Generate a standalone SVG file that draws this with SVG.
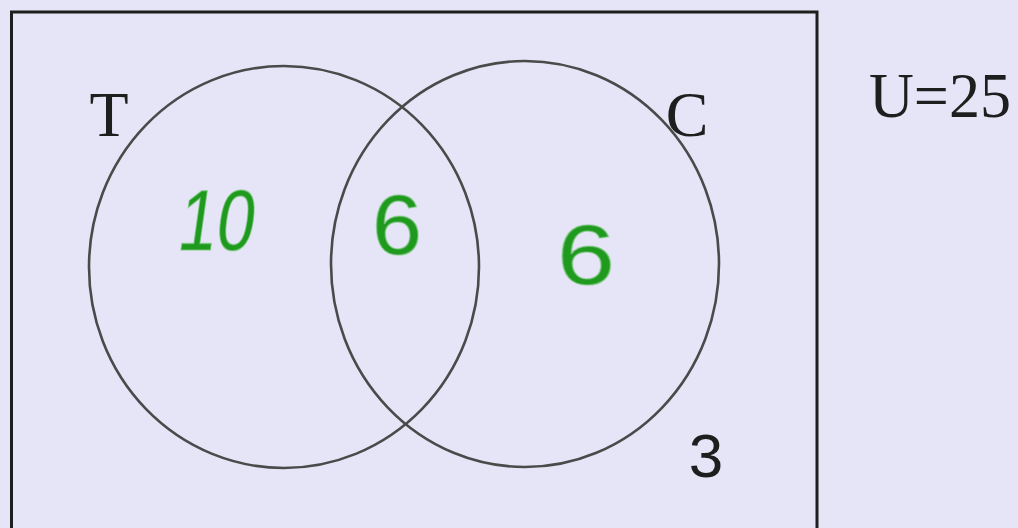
<svg xmlns="http://www.w3.org/2000/svg" width="1018" height="528" viewBox="0 0 1018 528">
<style>
.bg{fill:#E5E5F7}
.frame{fill:none;stroke:#1e1e1e;stroke-width:3}
.set{fill:none;stroke:#4a4a4a;stroke-width:2.6}
.lbl{font-family:"Liberation Serif",serif;font-size:64px;fill:#1e1e1e}
.num{font-family:"Liberation Sans",sans-serif;font-size:62px;fill:#1e1e1e}
.hand{font-family:"Liberation Sans",sans-serif;font-size:86px;fill:#1f9a1f;stroke:#7bc87b;stroke-width:1.5;stroke-opacity:0.6}
</style>
<rect class="bg" x="0" y="0" width="1018" height="528"/>
<g id="universe">
<rect class="frame" x="11.5" y="12" width="805.5" height="530"/>
<text class="lbl" x="1011" y="117" text-anchor="end" textLength="142" lengthAdjust="spacingAndGlyphs">U=25</text>
<text class="num" x="706" y="477" text-anchor="middle">3</text>
</g>
<g id="set-T">
<ellipse class="set" cx="284" cy="267" rx="195" ry="201"/>
<text class="lbl" x="109" y="136" text-anchor="middle">T</text>
<text class="hand" x="215" y="250" text-anchor="middle" textLength="76" lengthAdjust="spacingAndGlyphs" transform="skewX(-8) translate(34 0)">10</text>
</g>
<g id="set-C">
<ellipse class="set" cx="525" cy="264" rx="194" ry="203"/>
<text class="lbl" x="687" y="136" text-anchor="middle">C</text>
<text class="hand" x="586" y="284" text-anchor="middle" textLength="58" lengthAdjust="spacingAndGlyphs">6</text>
</g>
<g id="intersection">
<text class="hand" x="397" y="254" text-anchor="middle" textLength="50" lengthAdjust="spacingAndGlyphs">6</text>
</g>
<g id="connectors"></g>
</svg>
